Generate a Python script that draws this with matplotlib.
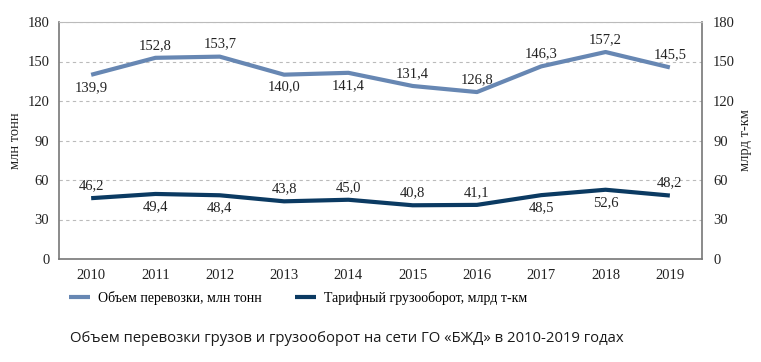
import matplotlib.pyplot as plt

# Data
years = ['2010', '2011', '2012', '2013', '2014', '2015', '2016', '2017', '2018', '2019']
volume = [139.9, 152.8, 153.7, 140.0, 141.4, 131.4, 126.8, 146.3, 157.2, 145.5]
turnover = [46.2, 49.4, 48.4, 43.8, 45.0, 40.8, 41.1, 48.5, 52.6, 48.2]
# label placement: +1 above, -1 below
volume_pos = [-1, 1, 1, -1, -1, 1, 1, 1, 1, 1]
turnover_pos = [1, -1, -1, 1, 1, 1, 1, -1, -1, 1]

c_light = '#6787b3'
c_dark = '#0b3a62'
txt = '#222222'

plt.rcParams['font.family'] = ['Liberation Serif', 'DejaVu Serif']

fig = plt.figure(figsize=(7.61, 3.62), dpi=100)
ax = fig.add_axes([59 / 761, 1 - 259 / 362, 643 / 761, 237 / 362])

x = range(len(years))
ax.plot(x, volume, color=c_light, lw=3, solid_capstyle='butt',
        label='Объем перевозки, млн тонн')
ax.plot(x, turnover, color=c_dark, lw=3, solid_capstyle='butt',
        label='Тарифный грузооборот, млрд т-км')

for xi, v, p in zip(x, volume, volume_pos):
    ax.annotate(f'{v:.1f}'.replace('.', ','), (xi, v), xytext=(0, 9 * p),
                textcoords='offset points', ha='center', va='center',
                fontsize=10.5, color=txt)
for xi, v, p in zip(x, turnover, turnover_pos):
    ax.annotate(f'{v:.1f}'.replace('.', ','), (xi, v), xytext=(0, 9 * p),
                textcoords='offset points', ha='center', va='center',
                fontsize=10.5, color=txt)

ax.set_xlim(-0.5, 9.5)
ax.set_ylim(0, 180)
ax.set_xticks(list(x))
ax.set_xticklabels(years)
ax.set_yticks(range(0, 181, 30))
ax.grid(axis='y', color='#bbbbbb', ls=(0, (3, 3)), lw=0.8)
ax.tick_params(length=0, labelsize=10.5, colors=txt, pad=7)
ax.tick_params(axis='x', pad=7)
for s in ['left', 'right', 'bottom']:
    ax.spines[s].set_color('#777777')
    ax.spines[s].set_linewidth(1.2)
ax.spines['top'].set_color('#bbbbbb')
ax.spines['top'].set_linewidth(0.8)
ax.set_ylabel('млн тонн', fontsize=10.5, color=txt, labelpad=4)

ax2 = ax.twinx()
ax2.set_ylim(0, 180)
ax2.set_yticks(range(0, 181, 30))
ax2.tick_params(length=0, labelsize=10.5, colors=txt, pad=8)
for s in ax2.spines.values():
    s.set_visible(False)
ax2.set_ylabel('млрд т-км', fontsize=10.5, color=txt, labelpad=3, rotation=90)

fig.legend(loc='center', bbox_to_anchor=(298 / 761, 1 - 298 / 362), ncol=2,
           frameon=False, fontsize=10, handlelength=1.5, columnspacing=2.4,
           handletextpad=0.6)

fig.text(70 / 761, 1 - 338 / 362,
         'Объем перевозки грузов и грузооборот на сети ГО «БЖД» в 2010-2019 годах',
         family=['Open Sans', 'DejaVu Sans'], fontsize=10.7, color='#1a1a1a',
         va='center', ha='left')

fig.savefig('out.png', dpi=100)
